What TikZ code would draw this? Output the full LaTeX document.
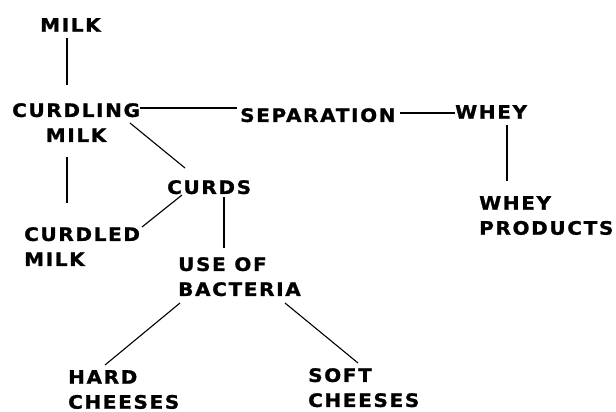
\documentclass[tikz,border=0pt]{standalone}
\usepackage{fontspec}
\setmainfont{DejaVu Sans}[LetterSpace=9,FakeStretch=1.08,BoldFeatures={FakeBold=1.2}]
\usepackage{tikz}
\usetikzlibrary{positioning,calc}

\begin{document}
\begin{tikzpicture}[
	x=1pt,y=-1pt,
	concept/.style={
		anchor=north west,
		inner sep=0pt,
		align=left,
		font=\fontsize{18.5}{25}\selectfont\bfseries
	},
	link/.style={
		line width=1.1pt
	},
	]
	\useasboundingbox (0,0) rectangle (616,412);
	\node[concept] (milk) at (40,18) {MILK};
	\node[concept,align=center] (curdling) at (12,103) {CURDLING\\MILK};
	\node[concept] (sep) at (240,108) {SEPARATION};
	\node[concept] (whey) at (455,105) {WHEY};
	\node[concept] (wprod) at (479,196) {WHEY\\PRODUCTS};
	\node[concept] (curds) at (167,180) {CURDS};
	\node[concept] (curdled) at (24,227) {CURDLED\\MILK};
	\node[concept] (bact) at (178,257) {USE OF\\BACTERIA};
	\node[concept] (hard) at (68,370) {HARD\\CHEESES};
	\node[concept] (soft) at (308,368) {SOFT\\CHEESES};
	
	\draw[link] ($(milk.north west)+(27,20)$) -- ($(curdling.north west)+(55,-18)$);
	\draw[link] ($(curdling.north west)+(128,5)$) -- ($(sep.north west)+(-3,0)$);
	\draw[link] ($(sep.north west)+(160,5)$) -- ($(whey.north west)+(0,8)$);
	\draw[link] ($(whey.north west)+(52,20)$) -- ($(wprod.north west)+(28,-15)$);
	\draw[link] ($(curdling.north west)+(118,20)$) -- ($(curds.north west)+(18,-12)$);
	\draw[link] ($(curdling.north west)+(55,54)$) -- ($(curdled.north west)+(43,-24)$);
	\draw[link] ($(curds.north west)+(15,15)$) -- ($(curdled.north west)+(118,0)$);
	\draw[link] ($(curds.north west)+(57,17)$) -- ($(bact.north west)+(46,-9)$);
	\draw[link] ($(bact.north west)+(2,46)$) -- ($(hard.north west)+(37,-5)$);
	\draw[link] ($(bact.north west)+(107,46)$) -- ($(soft.north west)+(50,-5)$);
\end{tikzpicture}
\end{document}
